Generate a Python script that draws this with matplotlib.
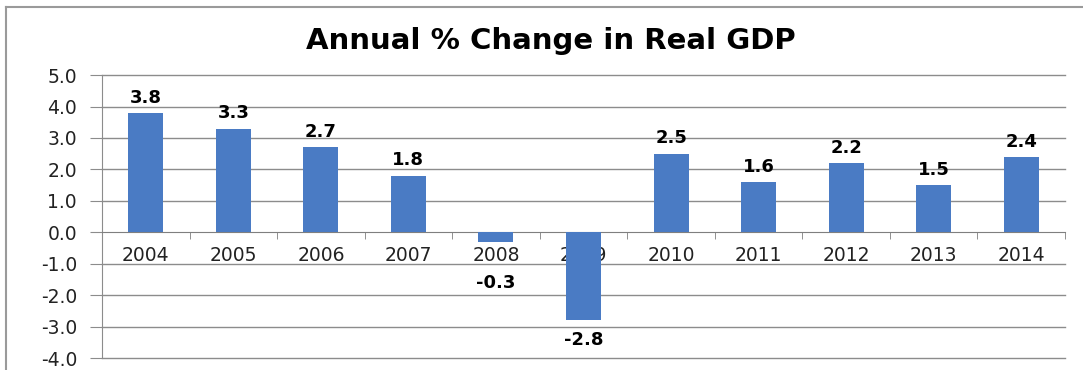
import matplotlib
matplotlib.use('Agg')
import matplotlib.pyplot as plt
from matplotlib.lines import Line2D

# annual real GDP growth, percent
years = ['2004', '2005', '2006', '2007', '2008', '2009',
         '2010', '2011', '2012', '2013', '2014']
gdp_change = [3.8, 3.3, 2.7, 1.8, -0.3, -2.8, 2.5, 1.6, 2.2, 1.5, 2.4]
y_ticks = [5.0, 4.0, 3.0, 2.0, 1.0, 0.0, -1.0, -2.0, -3.0, -4.0]

bar_color = '#4a7bc4'
grid_color = '#8c8c8c'

fig = plt.figure(figsize=(10.83, 3.70), dpi=100)
ax = fig.add_axes([0.0942, 0.0324, 0.8892, 0.7646])

x = list(range(len(years)))
ax.bar(x, gdp_change, width=0.4, color=bar_color, zorder=3)

ax.set_xlim(-0.5, len(years) - 0.5)
ax.set_ylim(-4, 5)

# horizontal gridlines (zero line is the category axis)
for t in y_ticks:
    if t != 0:
        ax.axhline(t, color=grid_color, lw=1.0, zorder=1, clip_on=False)

ax.set_yticks(y_ticks)
ax.set_yticklabels(['%.1f' % t for t in y_ticks], fontsize=13.5, color='#222222')
ax.tick_params(axis='y', length=9, color=grid_color, pad=9)

# category axis sits at zero, with ticks between the bars
ax.spines['bottom'].set_position(('data', 0))
ax.spines['bottom'].set_color('#7f7f7f')
ax.spines['left'].set_color(grid_color)
ax.spines['top'].set_visible(False)
ax.spines['right'].set_visible(False)
ax.set_xticks(x)
ax.set_xticklabels(years, fontsize=13.5, color='#222222')
ax.set_xticks([i - 0.5 for i in range(len(years) + 1)], minor=True)
ax.tick_params(axis='x', which='major', length=0, pad=10)
ax.tick_params(axis='x', which='minor', length=5, color='#7f7f7f', direction='out')

# value labels
for i, v in enumerate(gdp_change):
    if v >= 0:
        ax.annotate('%.1f' % v, (i, v), xytext=(0, 11), textcoords='offset points',
                    ha='center', va='center', fontsize=13, fontweight='bold')
    else:
        ax.annotate('%.1f' % v, (i, min(v, -1.0)), xytext=(0, -14),
                    textcoords='offset points', ha='center', va='center',
                    fontsize=13, fontweight='bold')

fig.text(0.509, 0.89, 'Annual % Change in Real GDP', ha='center', va='center',
         fontsize=21, fontweight='bold')

# outer chart frame
fig.add_artist(Line2D([0.0055, 0.0055], [0.0, 0.981], transform=fig.transFigure,
                      color='#9a9a9a', lw=1.5))
fig.add_artist(Line2D([0.0055, 1.0], [0.981, 0.981], transform=fig.transFigure,
                      color='#9a9a9a', lw=1.5))

fig.savefig('out.png', dpi=100)
